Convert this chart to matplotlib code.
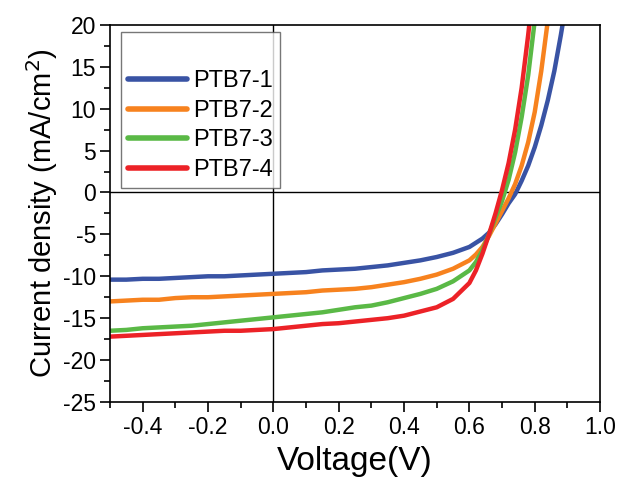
import matplotlib
matplotlib.use("Agg")
import matplotlib.pyplot as plt
from matplotlib.ticker import MultipleLocator

plt.rcParams['font.family'] = ['Liberation Sans', 'DejaVu Sans']
plt.rcParams['axes.unicode_minus'] = False

# voltage (V) sampling shared by all curves
voltage = [-0.5, -0.45, -0.4, -0.35, -0.3, -0.25, -0.2, -0.15, -0.1, -0.05,
           0.0, 0.05, 0.1, 0.15, 0.2, 0.25, 0.3, 0.35, 0.4, 0.45, 0.5, 0.55,
           0.6, 0.62, 0.64, 0.66, 0.68, 0.70, 0.72, 0.74, 0.76, 0.78, 0.80,
           0.82, 0.84, 0.86, 0.88, 0.90]

# current density (mA/cm2)
ptb7_1 = [-10.4, -10.4, -10.3, -10.3, -10.2, -10.1, -10.0, -10.0, -9.9, -9.8,
          -9.7, -9.6, -9.5, -9.3, -9.2, -9.1, -8.9, -8.7, -8.4, -8.1, -7.7, -7.2,
          -6.5, -6.0, -5.5, -4.8, -3.8, -2.6, -1.3, -0.2, 1.4, 3.2, 5.4,
          8.0, 11.0, 14.5, 18.8, 23.5]
ptb7_2 = [-13.0, -12.9, -12.8, -12.8, -12.6, -12.5, -12.5, -12.4, -12.3, -12.2,
          -12.1, -12.0, -11.9, -11.7, -11.6, -11.5, -11.3, -11.0, -10.7, -10.3, -9.8, -9.1,
          -8.1, -7.4, -6.5, -5.2, -3.7, -2.2, -0.7, 1.0, 3.2, 6.0, 9.6,
          14.5, 20.5, 26.0, 32.0, 38.0]
ptb7_3 = [-16.5, -16.4, -16.2, -16.1, -16.0, -15.9, -15.7, -15.5, -15.3, -15.1,
          -14.9, -14.7, -14.5, -14.3, -14.0, -13.7, -13.5, -13.1, -12.6, -12.1, -11.5, -10.6,
          -9.3, -8.3, -6.9, -5.0, -3.0, -1.0, 1.5, 4.8, 9.0, 14.0, 20.5,
          27.0, 34.0, 41.0, 48.0, 55.0]
ptb7_4 = [-17.2, -17.1, -17.0, -16.9, -16.8, -16.7, -16.6, -16.5, -16.5, -16.4,
          -16.3, -16.1, -15.9, -15.7, -15.6, -15.4, -15.2, -15.0, -14.7, -14.2, -13.7, -12.7,
          -10.8, -9.3, -7.3, -5.0, -2.5, 0.3, 3.5, 7.5, 12.5, 18.8, 26.0,
          33.0, 40.0, 47.0, 54.0, 61.0]

labels = ['PTB7-1', 'PTB7-2', 'PTB7-3', 'PTB7-4']
colors = ['#3953a4', '#f7821e', '#5ab946', '#ec2227']

fig = plt.figure(figsize=(6.18, 4.78), dpi=100)
ax = fig.add_axes([0.178, 0.159, 0.793, 0.789])

ax.axhline(0, color='black', lw=1.0, zorder=1)
ax.axvline(0, color='black', lw=1.0, zorder=1)

for series, label, color in zip([ptb7_1, ptb7_2, ptb7_3, ptb7_4], labels, colors):
    ax.plot(voltage, series, color=color, lw=3.2, label=label, zorder=2)

ax.set_xlim(-0.5, 1.0)
ax.set_ylim(-25, 20)
ax.xaxis.set_major_locator(MultipleLocator(0.2))
ax.xaxis.set_minor_locator(MultipleLocator(0.1))
ax.yaxis.set_major_locator(MultipleLocator(5))
ax.yaxis.set_minor_locator(MultipleLocator(2.5))
ax.set_xticks([-0.4, -0.2, 0.0, 0.2, 0.4, 0.6, 0.8, 1.0])
ax.set_xticklabels(['-0.4', '-0.2', '0.0', '0.2', '0.4', '0.6', '0.8', '1.0'])
ax.tick_params(which='both', direction='out', top=False, right=False, width=1.2,
               labelsize=16.5, pad=3)
ax.tick_params(which='major', length=7)
ax.tick_params(which='minor', length=4)
for sp in ax.spines.values():
    sp.set_linewidth(1.2)

ax.set_xlabel('Voltage(V)', fontsize=24, labelpad=5)
ax.set_ylabel('Current density (mA/cm$^2$)', fontsize=21, labelpad=2)

leg = ax.legend(loc='upper left', fontsize=17, handlelength=2.5, handletextpad=0.25,
                labelspacing=0.32, frameon=True, fancybox=False, edgecolor='#555555',
                title=' ', title_fontsize=18, borderpad=0.3, borderaxespad=0,
                bbox_to_anchor=(0.022, 0.982))
for line in leg.get_lines():
    line.set_linewidth(4.0)
    line.set_solid_capstyle('round')
leg.get_frame().set_linewidth(1.0)

fig.savefig('out.png', dpi=100)
